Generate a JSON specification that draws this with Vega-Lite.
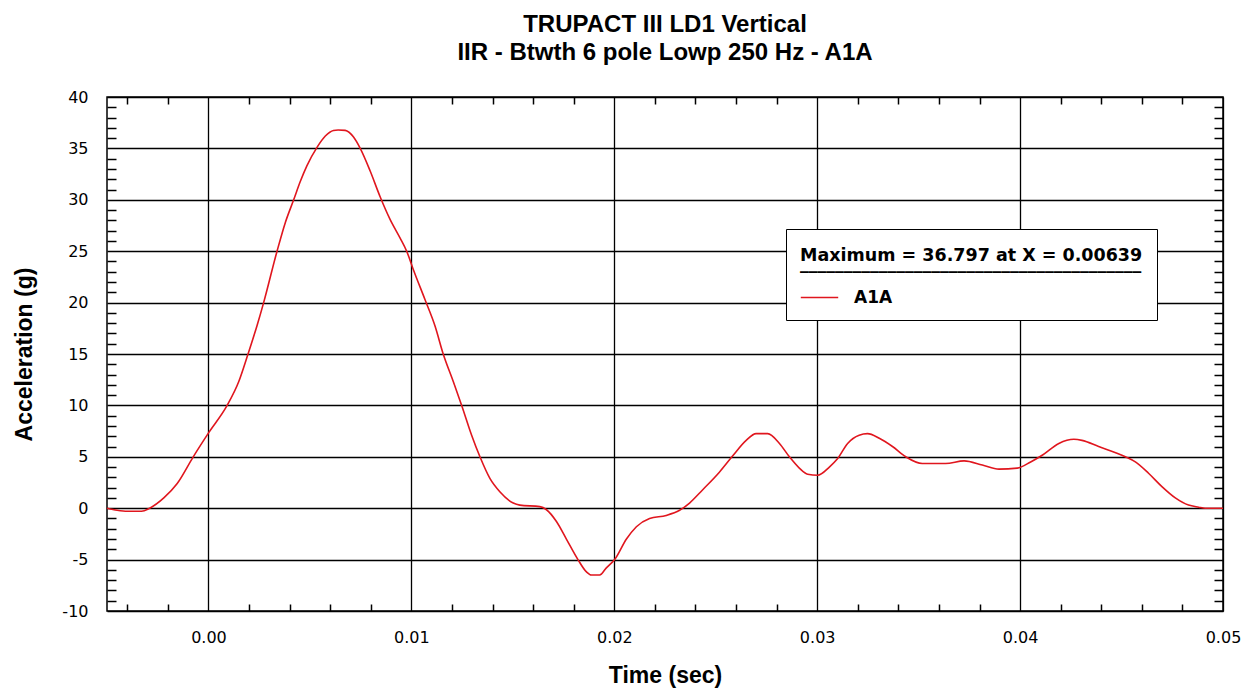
{
  "$schema": "https://vega.github.io/schema/vega-lite/v6.json",
  "width": 1116,
  "height": 514,
  "autosize": {"type": "none"},
  "padding": {"left": 107, "top": 97, "right": 27, "bottom": 77},
  "background": "white",
  "config": {
    "view": {"stroke": "#000", "strokeWidth": 1.5},
    "axis": {"domain": false, "labelFont": "DejaVu Sans", "labelFontSize": 16, "labelColor": "#000", "titleFont": "Liberation Sans", "titleFontSize": 23, "titleFontWeight": "bold", "titleColor": "#000"}
  },
  "title": {
    "text": ["TRUPACT III LD1 Vertical", "IIR - Btwth 6 pole Lowp 250 Hz - A1A"],
    "font": "Liberation Sans",
    "fontSize": 24,
    "fontWeight": "bold",
    "color": "#000",
    "lineHeight": 28,
    "anchor": "middle",
    "frame": "group",
    "baseline": "alphabetic",
    "offset": 5
  },
  "data": {"values": [
    {"t": -0.005, "g": 0, "s": "A1A"},
    {"t": -0.0045, "g": -0.2, "s": "A1A"},
    {"t": -0.004, "g": -0.3, "s": "A1A"},
    {"t": -0.0033, "g": -0.3, "s": "A1A"},
    {"t": -0.0029, "g": 0, "s": "A1A"},
    {"t": -0.0022, "g": 1, "s": "A1A"},
    {"t": -0.00154, "g": 2.4, "s": "A1A"},
    {"t": -0.00075, "g": 5, "s": "A1A"},
    {"t": 0.00003, "g": 7.4, "s": "A1A"},
    {"t": 0.00092, "g": 10, "s": "A1A"},
    {"t": 0.00149, "g": 12.3, "s": "A1A"},
    {"t": 0.00195, "g": 15, "s": "A1A"},
    {"t": 0.0024, "g": 17.8, "s": "A1A"},
    {"t": 0.00272, "g": 20, "s": "A1A"},
    {"t": 0.00338, "g": 25, "s": "A1A"},
    {"t": 0.00379, "g": 27.8, "s": "A1A"},
    {"t": 0.0042, "g": 30, "s": "A1A"},
    {"t": 0.00453, "g": 31.8, "s": "A1A"},
    {"t": 0.00485, "g": 33.3, "s": "A1A"},
    {"t": 0.00535, "g": 35.1, "s": "A1A"},
    {"t": 0.00576, "g": 36.2, "s": "A1A"},
    {"t": 0.00616, "g": 36.75, "s": "A1A"},
    {"t": 0.00639, "g": 36.797, "s": "A1A"},
    {"t": 0.00674, "g": 36.75, "s": "A1A"},
    {"t": 0.00715, "g": 36.1, "s": "A1A"},
    {"t": 0.00748, "g": 35, "s": "A1A"},
    {"t": 0.00797, "g": 32.8, "s": "A1A"},
    {"t": 0.00846, "g": 30.3, "s": "A1A"},
    {"t": 0.00895, "g": 28.1, "s": "A1A"},
    {"t": 0.00944, "g": 26.3, "s": "A1A"},
    {"t": 0.00977, "g": 25, "s": "A1A"},
    {"t": 0.0101, "g": 23.2, "s": "A1A"},
    {"t": 0.01067, "g": 20.3, "s": "A1A"},
    {"t": 0.01117, "g": 17.7, "s": "A1A"},
    {"t": 0.01157, "g": 15, "s": "A1A"},
    {"t": 0.01207, "g": 12.3, "s": "A1A"},
    {"t": 0.01248, "g": 10, "s": "A1A"},
    {"t": 0.01297, "g": 7.1, "s": "A1A"},
    {"t": 0.01338, "g": 5, "s": "A1A"},
    {"t": 0.01387, "g": 2.9, "s": "A1A"},
    {"t": 0.01436, "g": 1.6, "s": "A1A"},
    {"t": 0.01502, "g": 0.5, "s": "A1A"},
    {"t": 0.01535, "g": 0.3, "s": "A1A"},
    {"t": 0.01633, "g": 0.15, "s": "A1A"},
    {"t": 0.01666, "g": -0.15, "s": "A1A"},
    {"t": 0.01715, "g": -1.3, "s": "A1A"},
    {"t": 0.01764, "g": -3, "s": "A1A"},
    {"t": 0.01821, "g": -5, "s": "A1A"},
    {"t": 0.01863, "g": -6.2, "s": "A1A"},
    {"t": 0.01887, "g": -6.5, "s": "A1A"},
    {"t": 0.01928, "g": -6.5, "s": "A1A"},
    {"t": 0.01961, "g": -5.8, "s": "A1A"},
    {"t": 0.02002, "g": -5, "s": "A1A"},
    {"t": 0.0206, "g": -3, "s": "A1A"},
    {"t": 0.02109, "g": -1.8, "s": "A1A"},
    {"t": 0.02174, "g": -1, "s": "A1A"},
    {"t": 0.02256, "g": -0.7, "s": "A1A"},
    {"t": 0.02322, "g": -0.2, "s": "A1A"},
    {"t": 0.02371, "g": 0.5, "s": "A1A"},
    {"t": 0.02436, "g": 1.8, "s": "A1A"},
    {"t": 0.02518, "g": 3.5, "s": "A1A"},
    {"t": 0.02584, "g": 5.1, "s": "A1A"},
    {"t": 0.0265, "g": 6.6, "s": "A1A"},
    {"t": 0.02699, "g": 7.25, "s": "A1A"},
    {"t": 0.02756, "g": 7.25, "s": "A1A"},
    {"t": 0.02814, "g": 6.3, "s": "A1A"},
    {"t": 0.02863, "g": 5, "s": "A1A"},
    {"t": 0.02912, "g": 3.9, "s": "A1A"},
    {"t": 0.02953, "g": 3.3, "s": "A1A"},
    {"t": 0.03002, "g": 3.2, "s": "A1A"},
    {"t": 0.0306, "g": 4, "s": "A1A"},
    {"t": 0.031, "g": 4.8, "s": "A1A"},
    {"t": 0.0315, "g": 6.3, "s": "A1A"},
    {"t": 0.03207, "g": 7.1, "s": "A1A"},
    {"t": 0.03248, "g": 7.25, "s": "A1A"},
    {"t": 0.03306, "g": 6.8, "s": "A1A"},
    {"t": 0.03371, "g": 6, "s": "A1A"},
    {"t": 0.03437, "g": 5, "s": "A1A"},
    {"t": 0.03518, "g": 4.35, "s": "A1A"},
    {"t": 0.03633, "g": 4.35, "s": "A1A"},
    {"t": 0.03724, "g": 4.6, "s": "A1A"},
    {"t": 0.03814, "g": 4.2, "s": "A1A"},
    {"t": 0.03896, "g": 3.8, "s": "A1A"},
    {"t": 0.03986, "g": 3.9, "s": "A1A"},
    {"t": 0.04052, "g": 4.5, "s": "A1A"},
    {"t": 0.04109, "g": 5.15, "s": "A1A"},
    {"t": 0.04191, "g": 6.3, "s": "A1A"},
    {"t": 0.04265, "g": 6.7, "s": "A1A"},
    {"t": 0.04305, "g": 6.6, "s": "A1A"},
    {"t": 0.04387, "g": 6, "s": "A1A"},
    {"t": 0.04519, "g": 5, "s": "A1A"},
    {"t": 0.04568, "g": 4.5, "s": "A1A"},
    {"t": 0.04633, "g": 3.4, "s": "A1A"},
    {"t": 0.04699, "g": 2.1, "s": "A1A"},
    {"t": 0.04765, "g": 1, "s": "A1A"},
    {"t": 0.0483, "g": 0.3, "s": "A1A"},
    {"t": 0.0488, "g": 0.1, "s": "A1A"},
    {"t": 0.04912, "g": 0, "s": "A1A"},
    {"t": 0.05, "g": 0, "s": "A1A"}
  ]},
  "layer": [
    {
      "mark": {"type": "line", "strokeWidth": 1.6, "interpolate": "monotone"},
      "encoding": {
        "x": {"field": "t", "type": "quantitative",
          "scale": {"domain": [-0.005, 0.05], "nice": false, "zero": false},
          "axis": {"orient": "bottom", "title": "Time (sec)", "values": [0, 0.01, 0.02, 0.03, 0.04, 0.05], "format": ".2f",
            "grid": true, "gridColor": "#000", "gridWidth": 1.3, "gridOpacity": 1, "ticks": false, "tickSize": 0, "labelPadding": 18, "labelOverlap": false, "labelFlush": false,
            "titleX": 558, "titleY": 64, "titleBaseline": "middle", "titleAlign": "center"}},
        "y": {"field": "g", "type": "quantitative",
          "scale": {"domain": [-10, 40], "nice": false, "zero": false},
          "axis": {"orient": "left", "title": "Acceleration (g)", "values": [-10, -5, 0, 5, 10, 15, 20, 25, 30, 35, 40], "format": "d",
            "labelExpr": "replace(datum.label, '\u2212', '-')",
            "grid": true, "gridColor": "#000", "gridWidth": 1.3, "gridOpacity": 1, "ticks": false, "tickSize": 0, "labelPadding": 19, "labelOverlap": false, "labelFlush": false,
            "titleX": -83, "titleY": 257, "titleAngle": -90, "titleBaseline": "middle", "titleAlign": "center"}},
        "color": {"field": "s", "type": "nominal",
          "scale": {"domain": ["A1A"], "range": ["#e0161e"]},
          "legend": {"orient": "none", "legendX": 679, "legendY": 132,
            "title": ["Maximum = 36.797 at X = 0.00639", "_______________________________________"],
            "titleFont": "DejaVu Sans", "titleFontSize": 17.5, "titleFontWeight": "bold", "titleColor": "#000", "titleLineHeight": 7.5, "titlePadding": 10, "titleLimit": 500,
            "labelFont": "DejaVu Sans", "labelFontSize": 17, "labelFontWeight": "bold", "labelColor": "#000", "labelOffset": 15,
            "symbolType": "stroke", "symbolSize": 1400, "symbolStrokeWidth": 1.5,
            "fillColor": "white", "strokeColor": "#000", "padding": 14,
            "encode": {"title": {"update": {"dy": {"value": 4}}}}}}
      }
    },
    {
      "mark": {"type": "line", "strokeOpacity": 0},
      "encoding": {
        "x": {"field": "t", "type": "quantitative",
          "axis": {"orient": "bottom", "title": null, "labels": false, "grid": false, "ticks": true, "tickSize": -7, "tickWidth": 1.5, "tickColor": "#000",
            "values": [-0.004, -0.002, 0.002, 0.004, 0.006, 0.008, 0.012, 0.014, 0.016, 0.018, 0.022, 0.024, 0.026, 0.028, 0.032, 0.034, 0.036, 0.038, 0.042, 0.044, 0.046, 0.048]}},
        "y": {"field": "g", "type": "quantitative",
          "axis": {"orient": "left", "title": null, "labels": false, "grid": false, "ticks": true, "tickSize": -9, "tickWidth": 1.5, "tickColor": "#000",
            "values": [-9, -8, -7, -6, -4, -3, -2, -1, 1, 2, 3, 4, 6, 7, 8, 9, 11, 12, 13, 14, 16, 17, 18, 19, 21, 22, 23, 24, 26, 27, 28, 29, 31, 32, 33, 34, 36, 37, 38, 39]}}
      }
    },
    {
      "mark": {"type": "line", "strokeOpacity": 0},
      "encoding": {
        "x": {"field": "t", "type": "quantitative",
          "axis": {"orient": "top", "title": null, "labels": false, "grid": false, "ticks": true, "tickSize": -7, "tickWidth": 1.5, "tickColor": "#000",
            "values": [-0.004, -0.002, 0.002, 0.004, 0.006, 0.008, 0.012, 0.014, 0.016, 0.018, 0.022, 0.024, 0.026, 0.028, 0.032, 0.034, 0.036, 0.038, 0.042, 0.044, 0.046, 0.048]}},
        "y": {"field": "g", "type": "quantitative",
          "axis": {"orient": "right", "title": null, "labels": false, "grid": false, "ticks": true, "tickSize": -9, "tickWidth": 1.5, "tickColor": "#000",
            "values": [-9, -8, -7, -6, -4, -3, -2, -1, 1, 2, 3, 4, 6, 7, 8, 9, 11, 12, 13, 14, 16, 17, 18, 19, 21, 22, 23, 24, 26, 27, 28, 29, 31, 32, 33, 34, 36, 37, 38, 39]}}
      }
    }
  ],
  "resolve": {"axis": {"x": "independent", "y": "independent"}}
}
